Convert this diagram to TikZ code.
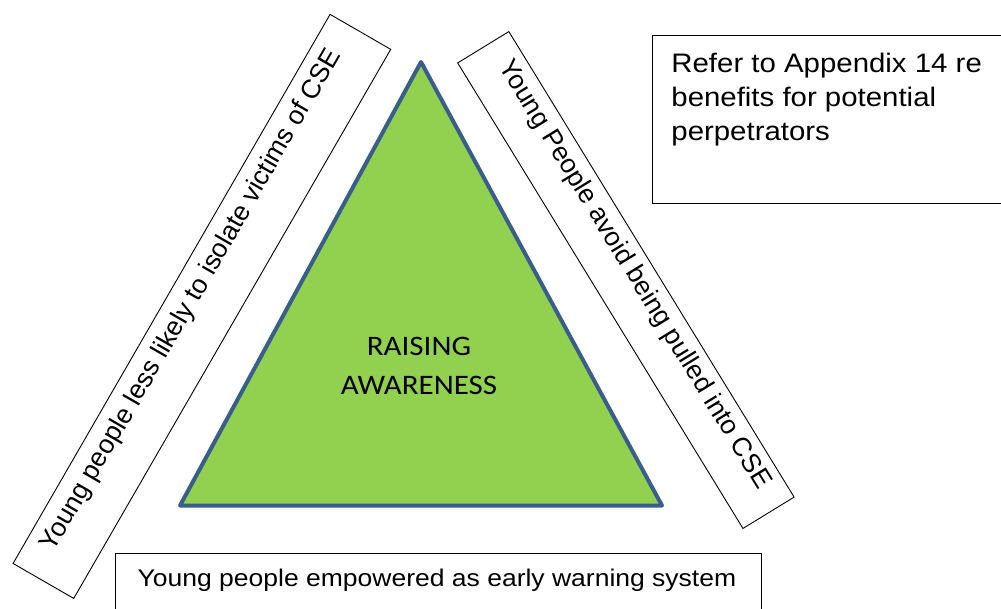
\documentclass[tikz,border=0pt]{standalone}
\usepackage{fontspec}
\setmainfont{Liberation Sans}
\newfontfamily\calibri{Carlito}
\newcommand{\sqz}[1]{\scalebox{1}[0.91]{#1}}
\begin{document}
\begin{tikzpicture}[x=1pt,y=-1pt,
  thinbox/.style={draw=black, line width=0.9pt, inner sep=0pt},
  arialtxt/.style={font=\fontsize{26.5}{30}\selectfont, inner sep=0pt},
  tri/.style={fill={rgb,255:red,146;green,208;blue,80}, draw={rgb,255:red,58;green,94;blue,140}, line width=4pt, line join=round}]
\useasboundingbox (0,0) rectangle (1001,608);
\clip (0,0) rectangle (1001,608);

% central triangle
\coordinate (apex) at (421,62);
\coordinate (bl) at (180,505.5);
\coordinate (br) at (662,505.5);
\draw[tri] (apex) -- (bl) -- (br) -- cycle;
\node[inner sep=0pt, anchor=base, font=\calibri\fontsize{31}{42.86}\selectfont] (raising) at (419,394)
  {\sqz{\begin{tabular}[b]{@{}c@{}}RAISING\\AWARENESS\end{tabular}}};

% left rotated box
\node[thinbox, arialtxt, rotate=60, minimum width=634pt, minimum height=70pt,
      text height=20pt, text depth=30pt] (leftbox) at (201.9,306.4)
  {Young people less likely to isolate victims of CSE};

% right rotated box
\node[thinbox, arialtxt, rotate=-58.5, minimum width=546pt, minimum height=60pt,
      text height=20pt, text depth=26pt] (rightbox) at (625.9,280)
  {Young People avoid being pulled into CSE};

% top right box
\node[thinbox, anchor=north west, minimum width=420pt, minimum height=167.7pt] (referbox) at (651.7,35) {};
\node[inner sep=0pt, anchor=base west, font=\fontsize{29.4}{37.14}\selectfont] (refertext) at (671.2,140)
  {\sqz{\begin{tabular}[b]{@{}l@{}}Refer to Appendix 14 re\\benefits for potential\\perpetrators\end{tabular}}};

% bottom box
\node[thinbox, anchor=north west, minimum width=645.7pt, minimum height=90pt] (warnbox) at (115,553.3) {};
\node[arialtxt, anchor=base west] (warntext) at (137.5,586.7)
  {\sqz{Young people empowered as early warning system}};
\end{tikzpicture}
\end{document}
